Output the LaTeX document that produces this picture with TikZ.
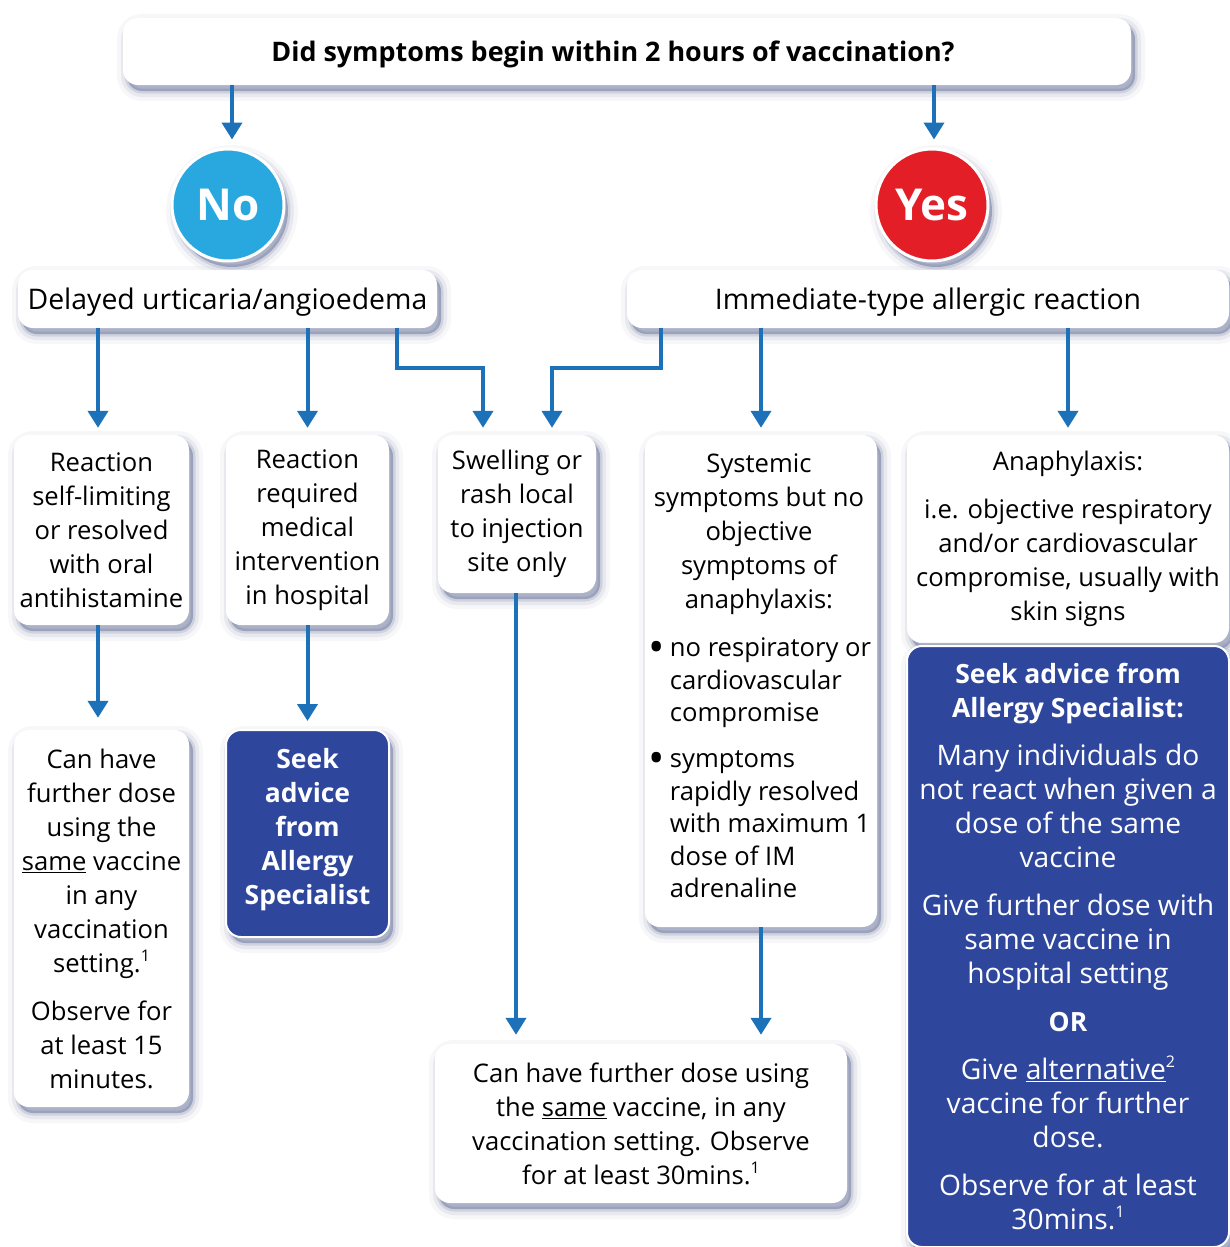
\documentclass[tikz,border=0pt]{standalone}
\usepackage{fontspec}
\setmainfont{Open Sans}
\usetikzlibrary{arrows.meta}
\definecolor{arrc}{RGB}{29,113,184}
\definecolor{navy}{RGB}{46,71,157}
\definecolor{nob}{RGB}{41,168,224}
\definecolor{yesr}{RGB}{228,30,38}
\definecolor{shc}{RGB}{60,75,125}
\newcommand\supnum[1]{\raisebox{0.42em}{\fontsize{16}{16}\selectfont #1}}
\newcommand\bigbul{\makebox[17pt][l]{\hspace*{-4pt}\raisebox{-6pt}{\scalebox{1.7}{\textbullet}}}}
\begin{document}
\begin{tikzpicture}[x=1pt,y=-1pt,
  shd/.style={
    preaction={draw=shc, line width=20pt, draw opacity=.04, transform canvas={shift={(4pt,-6pt)}}},
    preaction={draw=shc, line width=12pt, draw opacity=.08, transform canvas={shift={(4pt,-6pt)}}},
    preaction={draw=shc, line width=5pt, draw opacity=.14, transform canvas={shift={(4pt,-6pt)}}},
    preaction={fill=shc, fill opacity=.35, transform canvas={shift={(4pt,-6pt)}}}},
  txt/.style={font=\fontsize{25.6}{34}\selectfont, align=center, inner sep=0pt},
  wbox/.style={shd, fill=white, rounded corners=15pt, inner sep=0pt, align=center,
    font=\fontsize{25.6}{34}\selectfont, text=black},
  hbox/.style={wbox, font=\fontsize{28.4}{34}\selectfont, text depth=0pt},
  bbox/.style={shd, fill=navy, draw=white, line width=2pt, rounded corners=15pt, inner sep=0pt,
    align=center, font=\fontsize{26.5}{34}\selectfont, text=white},
  circ/.style={shd, circle, draw=white, line width=3pt, minimum size=112pt, inner sep=0pt,
    text=white, font=\fontsize{44}{44}\selectfont\bfseries},
  arr/.style={draw=arrc, line width=4pt, -{Triangle[width=20pt,length=17pt]}, shorten >=7pt}
]
\useasboundingbox (0,0) rectangle (1229,1247);
\fill[white] (0,0) rectangle (1229,1247);

% top question
\node[wbox, minimum width=1008pt, minimum height=67pt, text depth=0pt,
  font=\fontsize{26.9}{30}\selectfont\bfseries] (top) at (627,51.5)
  {\hspace*{-28pt}Did symptoms begin within 2 hours of vaccination?};

% circles
\node[circ, fill=nob] (no) at (228,205) {No};
\node[circ, fill=yesr] (yes) at (932,205) {Yes};

% second row
\node[hbox, minimum width=419pt, minimum height=58pt] (del) at (227.5,299) {Delayed urticaria/angioedema};
\node[hbox, minimum width=602pt, minimum height=58pt] (imm) at (928,299) {Immediate-type allergic reaction};

% third row
\node[wbox, minimum width=175pt, minimum height=190pt] (A) at (101.5,530)
  {Reaction\\self-limiting\\or resolved\\with oral\\antihistamine};
\node[wbox, minimum width=163pt, minimum height=190pt] (B) at (307.5,530)
  {Reaction\\required\\medical\\intervention\\in hospital};
\node[wbox, minimum width=158pt, minimum height=158pt] (C) at (517,514)
  {Swelling or\\rash local\\to injection\\site only};
\node[wbox, minimum width=232pt, minimum height=492pt] (D) at (761,681) {};
\node[txt, align=left] (Dtxt) at (762,676)
  {\makebox[212pt]{Systemic}\\
   \makebox[212pt]{symptoms but no}\\
   \makebox[212pt]{objective}\\
   \makebox[212pt]{symptoms of}\\
   \makebox[212pt]{anaphylaxis:}\\[14pt]
   \bigbul no respiratory or\\[-1.5pt]
   \hspace*{17pt}cardiovascular\\[-1.5pt]
   \hspace*{17pt}compromise\\[12pt]
   \bigbul symptoms\\[-1.5pt]
   \hspace*{17pt}rapidly resolved\\[-1.5pt]
   \hspace*{17pt}with maximum 1\\[-1.5pt]
   \hspace*{17pt}dose of IM\\[-1.5pt]
   \hspace*{17pt}adrenaline};
\node[wbox, minimum width=322pt, minimum height=208pt] (E) at (1068,539)
  {Anaphylaxis:\\[14pt]i.e. objective respiratory\\and/or cardiovascular\\compromise, usually with\\skin signs};

% fourth row
\node[wbox, minimum width=175pt, minimum height=377pt] (F) at (101.5,918.5)
  {Can have\\further dose\\using the\\\underline{same} vaccine\\in any\\vaccination\\setting.\supnum{1}\\[14pt]Observe for\\at least 15\\minutes.};
\node[bbox, minimum width=163pt, minimum height=207pt] (G) at (307.5,833.5)
  {\textbf{Seek}\\\textbf{advice}\\\textbf{from}\\\textbf{Allergy}\\\textbf{Specialist}\\[-20pt]\mbox{}};
\node[wbox, minimum width=412pt, minimum height=159pt] (H) at (641,1123.5)
  {Can have further dose using\\the \underline{same} vaccine, in any\\vaccination setting. Observe\\for at least 30mins.\supnum{1}};
\node[bbox, minimum width=322pt, minimum height=601pt, font=\fontsize{28.2}{34}\selectfont] (I) at (1068,946.5)
  {{\fontsize{26.5}{34}\selectfont\bfseries Seek advice from}\\{\fontsize{26.5}{34}\selectfont\bfseries Allergy Specialist:}\\[14pt]
   Many individuals do\\not react when given a\\dose of the same\\vaccine\\[14pt]
   Give further dose with\\same vaccine in\\hospital setting\\[14pt]
   {\fontsize{26.5}{34}\selectfont\bfseries OR}\\[14pt]
   Give \underline{alternative}\supnum{2}\\vaccine for further\\dose.\\[14pt]
   Observe for at least\\30mins.\supnum{1}};

% connectors
\coordinate (noIn) at ([xshift=4pt]no.north);
\coordinate (yesIn) at ([xshift=2pt]yes.north);
\draw[arr, shorten >=8pt] (top.south -| noIn) -- (noIn);
\draw[arr, shorten >=8pt] (top.south -| yesIn) -- (yesIn);

\coordinate (aIn) at ([xshift=-3.5pt]A.north);
\coordinate (aOut) at ([xshift=-3.5pt]A.south);
\draw[arr] (del.south -| aIn) -- (aIn);
\draw[arr] (del.south -| B.north) -- (B.north);
\draw[arr] ([xshift=169.5pt]del.south) -- ++(0,40) -| ([xshift=-34pt]C.north);
\draw[arr] ([xshift=-267pt]imm.south) -- ++(0,40) -| ([xshift=35pt]C.north);
\draw[arr] (imm.south -| D.north) -- (D.north);
\draw[arr] (imm.south -| E.north) -- (E.north);

\draw[arr, shorten >=12pt] (aOut) -- (F.north -| aOut);
\draw[arr, shorten >=8pt] (B.south) -- (G.north);
\draw[arr, shorten >=9pt] ([xshift=-1pt]C.south) -- ([xshift=-1pt]H.north -| C.south);
\draw[arr, shorten >=9pt] (D.south) -- (H.north -| D.south);
\end{tikzpicture}
\end{document}
